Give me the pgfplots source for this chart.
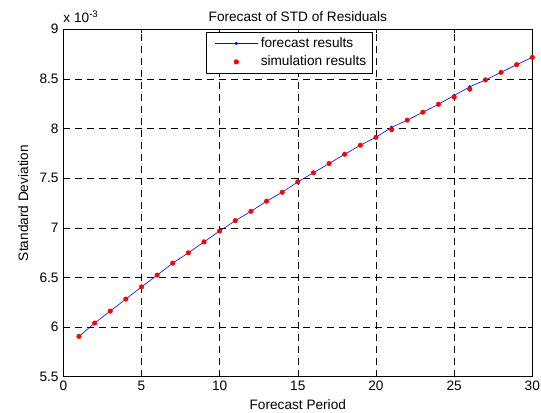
\documentclass[border=0pt]{standalone}
\usepackage{pgfplots}
\pgfplotsset{compat=1.18}
\usepackage{fontspec}
\setmainfont{Liberation Sans}
\begin{document}
\fontsize{13.7}{16}\selectfont
\begin{tikzpicture}
\begin{axis}[
  scale only axis,
  width=469bp, height=347.4bp,
  xmin=0, xmax=30, ymin=5.5, ymax=9,
  xtick={0,5,...,30},
  ytick={5.5,6,6.5,7,7.5,8,8.5,9},
  yticklabels={5.5,6,6.5,7,7.5,8,8.5,9},
  /pgf/number format/assume math mode=true,
  tick align=inside,
  tick style={black, line width=0.5pt},
  major tick length=4bp,
  axis line style={black, line width=0.6pt},
  grid=major,
  major grid style={black, line width=0.5pt, dash pattern=on 7bp off 5bp},
  title={Forecast of STD of Residuals},
  title style={yshift=-3bp},
  xlabel={Forecast Period},
  ylabel={Standard Deviation},
  xlabel style={yshift=1bp},
  ylabel style={yshift=2bp},
  legend style={at={(axis cs:9.13,8.97)}, anchor=north west, draw=black, line width=0.5pt, font=\fontsize{13.7}{16}\selectfont, row sep=2.5bp, inner xsep=4.5bp, inner ysep=3bp},
  legend cell align=left,
]
\addplot[blue, line width=0.6pt, mark=*, mark size=1.3bp, mark options={fill=blue, draw=blue},
  legend image code/.code={\draw[blue, line width=0.6pt] (4bp,0bp) -- (47bp,0bp); \fill[blue] (25.5bp,0bp) circle (1.3bp); \path[draw=none] (0bp,0bp) -- (48bp,0bp);}] coordinates {
(1,5.906) (2,6.040) (3,6.161) (4,6.282) (5,6.405) (6,6.523) (7,6.644) (8,6.748) (9,6.858) (10,6.968)
(11,7.072) (12,7.166) (13,7.268) (14,7.358) (15,7.463) (16,7.554) (17,7.648) (18,7.741) (19,7.832) (20,7.912)
(21,8.012) (22,8.085) (23,8.165) (24,8.245) (25,8.333) (26,8.420) (27,8.490) (28,8.566) (29,8.644) (30,8.717)
};
\addlegendentry{forecast results}
\addplot[only marks, red, mark=*, mark size=2.3bp, mark options={fill=red, draw=red},
  legend image code/.code={\fill[red] (25.5bp,0bp) circle (2.3bp); \path[draw=none] (0bp,0bp) -- (48bp,0bp);}] coordinates {
(1,5.906) (2,6.040) (3,6.161) (4,6.282) (5,6.405) (6,6.523) (7,6.644) (8,6.748) (9,6.858) (10,6.968)
(11,7.072) (12,7.166) (13,7.268) (14,7.358) (15,7.463) (16,7.554) (17,7.648) (18,7.741) (19,7.832) (20,7.912)
(21,7.988) (22,8.085) (23,8.165) (24,8.245) (25,8.316) (26,8.396) (27,8.490) (28,8.566) (29,8.644) (30,8.717)
};
\addlegendentry{simulation results}
\end{axis}
\node[anchor=base west, inner sep=0pt] at ([yshift=7bp]current axis.north west) {x 10\textsuperscript{-3}};
\pgfresetboundingbox
\path ([xshift=-63.3bp,yshift=-36.3bp]current axis.south west) rectangle ([xshift=8.7bp,yshift=29.3bp]current axis.north east);
\end{tikzpicture}
\end{document}
